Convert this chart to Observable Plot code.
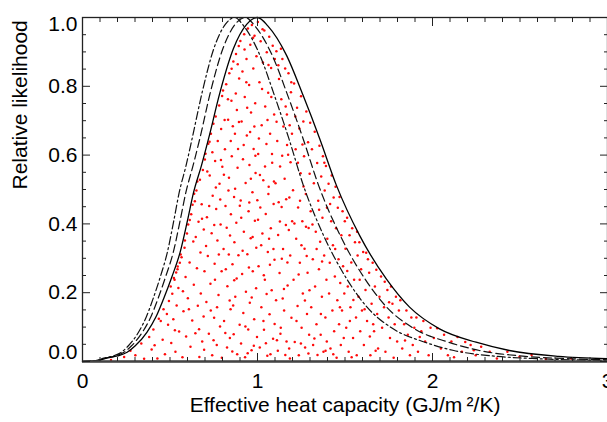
<!DOCTYPE html>
<html><head><meta charset="utf-8">
<script src="https://cdn.jsdelivr.net/npm/d3@7"></script>
<script src="https://cdn.jsdelivr.net/npm/@observablehq/plot@0.6"></script>
<style>html,body{margin:0;padding:0;background:#fff}</style>
</head><body><div id="chart"></div>
<script>
// ---- data ----
const xMajor = [0, 1, 2, 3];
const xMinor = [0.1,0.2,0.3,0.4,0.5,0.6,0.7,0.8,0.9,1.1,1.2,1.3,1.4,1.5,1.6,1.7,1.8,1.9,2.1,2.2,2.3,2.4,2.5,2.6,2.7,2.8,2.9];
const yMajor = [0, 0.2, 0.4, 0.6, 0.8, 1.0];
const yMinor = [0.05,0.1,0.15,0.25,0.3,0.35,0.45,0.5,0.55,0.65,0.7,0.75,0.85,0.9,0.95];
const yLabelMid = [0.2, 0.4, 0.6, 0.8];
const xTitle = "Effective heat capacity (GJ/m\u2009\u00b2/K)";
const yTitle = "Relative likelihood";

// solid curve
const solidX = [0,0.10,0.14,0.20,0.255,0.30,0.368,0.42,0.463,0.51,0.558,0.60,0.634,0.68,0.72,0.786,0.862,0.938,1.0,1.06,1.166,1.261,1.356,1.451,1.584,1.736,1.869,2.04,2.249,2.439,2.72,3.0];
const solidY = [0,0.004,0.01,0.016,0.027,0.045,0.085,0.13,0.182,0.245,0.318,0.41,0.49,0.57,0.647,0.783,0.909,0.98,1.0,0.975,0.89,0.773,0.647,0.512,0.366,0.24,0.158,0.095,0.056,0.032,0.015,0.008];
// dash-dot curve (peak ~0.87)
const dashDotX = [0,0.087,0.122,0.174,0.222,0.261,0.32,0.365,0.403,0.444,0.485,0.522,0.552,0.592,0.626,0.684,0.75,0.816,0.87,0.922,1.014,1.097,1.18,1.262,1.378,1.51,1.626,1.775,1.957,2.122,2.366,2.61,3.0];
const dashDotY = [0,0.004,0.01,0.016,0.027,0.045,0.085,0.13,0.182,0.245,0.318,0.41,0.49,0.57,0.647,0.783,0.909,0.98,1.0,0.975,0.89,0.773,0.647,0.512,0.366,0.24,0.158,0.095,0.056,0.032,0.015,0.008,0.003];
// dashed curve (peak ~0.93)
const dashX = [0,0.093,0.13,0.186,0.237,0.279,0.342,0.391,0.431,0.474,0.519,0.558,0.59,0.632,0.67,0.731,0.802,0.872,0.93,0.986,1.084,1.173,1.261,1.349,1.473,1.614,1.738,1.897,2.092,2.268,2.53,2.79,3.0];
const dashY = [0,0.004,0.01,0.016,0.027,0.045,0.085,0.13,0.182,0.245,0.318,0.41,0.49,0.57,0.647,0.783,0.909,0.98,1.0,0.975,0.89,0.773,0.647,0.512,0.366,0.24,0.158,0.095,0.056,0.032,0.015,0.008,0.005];

// red scatter (estimated positions)
const cloud = [
[0.163,0.004],[0.238,0.013],[0.274,0.031],[0.302,0.018],[0.336,0.052],[0.352,0.008],[0.381,0.071],[0.395,0.035],
[0.412,0.047],[0.447,0.118],[0.428,0.009],[0.436,0.124],[0.458,0.063],[0.463,0.152],[0.471,0.021],[0.489,0.107],[0.494,0.176],[0.405,0.093],[0.482,0.138],
[0.507,0.054],[0.513,0.197],[0.519,0.123],[0.526,0.238],[0.531,0.028],[0.538,0.163],[0.543,0.268],[0.552,0.087],[0.548,0.214],[0.566,0.303],[0.571,0.012],[0.577,0.146],[0.583,0.331],[0.589,0.246],[0.592,0.073],[0.597,0.372],[0.602,0.184],[0.504,0.218],[0.522,0.243],[0.535,0.259],[0.561,0.311],[0.585,0.352],[0.556,0.287],[0.544,0.276],[0.528,0.091],[0.574,0.204],
[0.604,0.398],[0.612,0.288],[0.617,0.043],[0.621,0.428],[0.627,0.119],[0.633,0.349],[0.636,0.223],[0.642,0.466],[0.645,0.082],[0.651,0.497],[0.654,0.271],[0.659,0.162],[0.663,0.406],[0.668,0.013],[0.671,0.528],[0.674,0.317],[0.676,0.198],[0.681,0.457],[0.684,0.058],[0.688,0.557],[0.692,0.131],[0.693,0.384],[0.697,0.262],[0.699,0.587],[0.608,0.152],[0.629,0.456],[0.647,0.362],[0.666,0.094],[0.683,0.415],[0.695,0.034],[0.613,0.411],[0.656,0.523],[0.638,0.488],
[0.703,0.604],[0.708,0.173],[0.711,0.419],[0.716,0.307],[0.719,0.633],[0.722,0.081],[0.727,0.541],[0.731,0.226],[0.734,0.662],[0.738,0.373],[0.741,0.018],[0.744,0.482],[0.748,0.691],[0.752,0.127],[0.755,0.284],[0.758,0.583],[0.761,0.712],[0.764,0.443],[0.767,0.048],[0.771,0.352],[0.773,0.641],[0.777,0.193],[0.781,0.744],[0.783,0.517],[0.786,0.102],[0.789,0.398],[0.792,0.676],[0.795,0.262],[0.798,0.772],[0.799,0.566],[0.796,0.011],[0.742,0.608],[0.724,0.452],[0.757,0.238],[0.713,0.552],[0.787,0.471],[0.749,0.062],[0.769,0.158],[0.706,0.336],[0.733,0.148],[0.779,0.311],[0.762,0.506],[0.726,0.639],[0.791,0.586],[0.753,0.397],
[0.803,0.788],[0.806,0.327],[0.809,0.118],[0.814,0.617],[0.817,0.452],[0.821,0.806],[0.826,0.041],[0.828,0.219],[0.832,0.703],[0.837,0.534],[0.839,0.838],[0.843,0.366],[0.846,0.152],[0.851,0.758],[0.853,0.597],[0.857,0.283],[0.862,0.872],[0.864,0.079],[0.866,0.478],[0.871,0.662],[0.873,0.188],[0.877,0.894],[0.879,0.403],[0.882,0.731],[0.884,0.021],[0.886,0.563],[0.891,0.309],[0.893,0.917],[0.895,0.823],[0.898,0.107],[0.808,0.543],[0.819,0.268],[0.831,0.762],[0.842,0.068],[0.848,0.428],[0.859,0.684],[0.868,0.347],[0.881,0.241],[0.889,0.618],[0.834,0.497],[0.841,0.177],[0.852,0.851],[0.872,0.502],[0.887,0.864],[0.812,0.702],[0.861,0.163],[0.824,0.389],[0.856,0.029],[0.876,0.779],[0.899,0.453],[0.816,0.083],[0.847,0.641],[0.867,0.236],[0.894,0.696],[0.836,0.311],
[0.902,0.932],[0.904,0.468],[0.906,0.052],[0.909,0.698],[0.912,0.254],[0.914,0.843],[0.917,0.588],[0.919,0.141],[0.922,0.377],[0.924,0.951],[0.927,0.769],[0.929,0.012],[0.932,0.519],[0.934,0.203],[0.937,0.879],[0.939,0.657],[0.942,0.312],[0.945,0.968],[0.947,0.093],[0.949,0.437],[0.952,0.804],[0.954,0.571],[0.956,0.171],[0.959,0.921],[0.961,0.358],[0.963,0.724],[0.966,0.033],[0.968,0.978],[0.971,0.492],[0.973,0.262],[0.976,0.852],[0.978,0.618],[0.981,0.123],[0.983,0.947],[0.985,0.409],[0.987,0.751],[0.989,0.548],[0.992,0.213],[0.994,0.887],[0.997,0.071],[0.907,0.418],[0.921,0.629],[0.931,0.102],[0.941,0.738],[0.951,0.273],[0.962,0.531],[0.972,0.362],[0.982,0.683],[0.993,0.331],[0.936,0.812],[0.953,0.462],[0.975,0.941],[0.915,0.322],[0.944,0.024],[0.967,0.186],[0.988,0.598],[0.926,0.907],[0.958,0.667],[0.979,0.046],[0.999,0.469],
[1.002,0.987],[1.004,0.603],[1.006,0.277],[1.011,0.812],[1.013,0.041],[1.016,0.448],[1.018,0.931],[1.022,0.158],[1.024,0.687],[1.028,0.372],[1.031,0.869],[1.033,0.527],[1.037,0.092],[1.039,0.962],[1.042,0.238],[1.044,0.741],[1.047,0.429],[1.051,0.632],[1.053,0.899],[1.056,0.017],[1.059,0.318],[1.061,0.781],[1.064,0.508],[1.067,0.944],[1.069,0.137],[1.072,0.662],[1.076,0.387],[1.078,0.853],[1.081,0.207],[1.084,0.578],[1.087,0.918],[1.089,0.066],[1.092,0.458],[1.095,0.718],[1.097,0.296],[1.099,0.879],[1.008,0.648],[1.021,0.338],[1.034,0.118],[1.043,0.567],[1.052,0.196],[1.063,0.862],[1.071,0.281],[1.083,0.603],[1.091,0.327],[1.098,0.109],[1.003,0.412],[1.026,0.792],[1.048,0.053],[1.079,0.769],[1.062,0.487],[1.014,0.542],[1.036,0.251],[1.057,0.702],[1.074,0.021],[1.094,0.523],[1.029,0.966],[1.066,0.357],
[1.103,0.518],[1.106,0.178],[1.108,0.902],[1.113,0.641],[1.116,0.031],[1.118,0.368],[1.123,0.821],[1.126,0.257],[1.129,0.567],[1.133,0.098],[1.136,0.762],[1.138,0.449],[1.142,0.879],[1.146,0.327],[1.148,0.683],[1.152,0.148],[1.155,0.531],[1.158,0.852],[1.162,0.397],[1.166,0.058],[1.168,0.718],[1.172,0.221],[1.175,0.601],[1.177,0.838],[1.182,0.477],[1.185,0.009],[1.187,0.308],[1.191,0.783],[1.194,0.127],[1.197,0.662],[1.109,0.697],[1.121,0.463],[1.131,0.081],[1.141,0.598],[1.151,0.211],[1.161,0.741],[1.171,0.288],[1.181,0.038],[1.189,0.579],[1.198,0.408],[1.119,0.861],[1.139,0.299],[1.159,0.019],[1.179,0.382],[1.193,0.812],[1.128,0.407],[1.169,0.629],[1.111,0.062],[1.144,0.183],[1.164,0.472],[1.184,0.687],[1.134,0.909],
[1.203,0.498],[1.206,0.238],[1.209,0.808],[1.213,0.057],[1.218,0.617],[1.221,0.357],[1.226,0.738],[1.229,0.161],[1.232,0.448],[1.236,0.018],[1.239,0.677],[1.242,0.287],[1.246,0.547],[1.249,0.771],[1.252,0.098],[1.256,0.408],[1.259,0.198],[1.262,0.698],[1.266,0.597],[1.269,0.328],[1.272,0.041],[1.276,0.487],[1.279,0.727],[1.283,0.138],[1.286,0.258],[1.289,0.637],[1.292,0.388],[1.295,0.078],[1.298,0.546],[1.301,0.694],[1.211,0.401],[1.231,0.578],[1.251,0.338],[1.271,0.177],[1.291,0.023],[1.223,0.118],[1.243,0.467],[1.263,0.509],[1.281,0.307],[1.297,0.207],[1.216,0.712],[1.235,0.253],[1.257,0.631],[1.277,0.392],[1.248,0.052],
[1.304,0.437],[1.307,0.158],[1.311,0.617],[1.316,0.297],[1.318,0.048],[1.322,0.518],[1.327,0.668],[1.329,0.218],[1.333,0.377],[1.337,0.108],[1.341,0.577],[1.343,0.019],[1.347,0.467],[1.351,0.268],[1.354,0.627],[1.358,0.348],[1.361,0.078],[1.364,0.538],[1.368,0.188],[1.371,0.418],[1.374,0.597],[1.377,0.028],[1.381,0.308],[1.384,0.497],[1.388,0.128],[1.391,0.568],[1.394,0.238],[1.397,0.447],[1.399,0.357],[1.396,0.058],[1.314,0.398],[1.338,0.327],[1.362,0.138],[1.382,0.578],[1.325,0.067],[1.352,0.441],[1.369,0.291],[1.389,0.031],
[1.406,0.517],[1.409,0.198],[1.413,0.287],[1.417,0.038],[1.421,0.408],[1.424,0.541],[1.428,0.148],[1.431,0.338],[1.435,0.477],[1.438,0.088],[1.442,0.247],[1.446,0.508],[1.449,0.387],[1.452,0.011],[1.456,0.178],[1.459,0.447],[1.463,0.297],[1.466,0.108],[1.469,0.478],[1.473,0.228],[1.476,0.048],[1.479,0.367],[1.483,0.148],[1.486,0.437],[1.489,0.277],[1.493,0.068],[1.496,0.198],[1.499,0.408],[1.415,0.458],[1.444,0.327],[1.471,0.158],[1.433,0.021],
[1.503,0.328],[1.507,0.098],[1.512,0.418],[1.516,0.218],[1.521,0.028],[1.526,0.367],[1.531,0.158],[1.536,0.288],[1.541,0.387],[1.546,0.068],[1.552,0.238],[1.557,0.347],[1.563,0.128],[1.567,0.018],[1.572,0.308],[1.577,0.188],[1.582,0.347],[1.587,0.088],[1.592,0.268],[1.597,0.148],[1.528,0.118],[1.569,0.377],[1.513,0.263],[1.548,0.179],[1.584,0.238],[1.538,0.012],
[1.604,0.318],[1.608,0.048],[1.617,0.208],[1.626,0.118],[1.631,0.297],[1.638,0.258],[1.645,0.018],[1.652,0.168],[1.658,0.287],[1.666,0.088],[1.671,0.218],[1.679,0.267],[1.684,0.138],[1.689,0.038],[1.697,0.188],[1.621,0.316],[1.661,0.108],[1.642,0.073],[1.675,0.031],[1.612,0.152],
[1.706,0.247],[1.712,0.098],[1.723,0.158],[1.731,0.028],[1.742,0.208],[1.749,0.128],[1.757,0.068],[1.763,0.218],[1.771,0.168],[1.778,0.011],[1.784,0.108],[1.791,0.188],[1.798,0.058],[1.727,0.232],[1.752,0.172],
[1.808,0.148],[1.816,0.178],[1.827,0.038],[1.838,0.108],[1.851,0.148],[1.859,0.078],[1.871,0.018],[1.879,0.128],[1.887,0.048],[1.896,0.098],[1.843,0.061],
[1.908,0.128],[1.917,0.028],[1.936,0.088],[1.948,0.118],[1.958,0.058],[1.978,0.018],[1.989,0.098],[1.927,0.071],
[2.008,0.068],[2.027,0.097],[2.048,0.038],[2.066,0.078],[2.088,0.018],[2.108,0.058],[2.143,0.071],[2.168,0.028],[2.187,0.057],[2.123,0.012],
[2.218,0.048],[2.247,0.018],[2.278,0.043],[2.327,0.028],[2.368,0.009],[2.236,0.033],
[2.428,0.028],[2.497,0.014],[2.566,0.019],[2.648,0.007],
[2.793,0.009],[2.948,0.005]
];

// ---- build ----
const solid = solidX.map((x, i) => ({x, y: solidY[i]}));
const dashDot = dashDotX.map((x, i) => ({x, y: dashDotY[i]}));
const dashed = dashX.map((x, i) => ({x, y: dashY[i]}));
const blank = () => "";
const FS = 21;

const chart = Plot.plot({
  width: 607, height: 422,
  marginLeft: 82, marginRight: 0, marginTop: 17, marginBottom: 61,
  x: {domain: [0, 3], axis: null, label: null},
  y: {domain: [0, 1], axis: null, label: null},
  style: {fontFamily: "'Liberation Sans', Arial, Helvetica, sans-serif", fontSize: "21px", color: "#000", background: "#fff"},
  marks: [
    Plot.dot(cloud, {x: d => d[0], y: d => d[1], r: 1.25, fill: "#ff0a0a", stroke: "none"}),
    Plot.line(dashDot, {x: "x", y: "y", curve: "monotone-x", stroke: "#111", strokeWidth: 1.2, strokeDasharray: "8,3,2,3"}),
    Plot.line(dashed, {x: "x", y: "y", curve: "monotone-x", stroke: "#111", strokeWidth: 1.2, strokeDasharray: "8,4"}),
    Plot.line(solid, {x: "x", y: "y", curve: "monotone-x", stroke: "#000", strokeWidth: 1.3}),
    Plot.frame({stroke: "#222", strokeWidth: 1.3}),
    Plot.ruleY([0], {stroke: "#444", strokeWidth: 2.5}),
    // inward ticks on all four sides
    Plot.axisX(xMajor, {anchor: "bottom", tickSize: -8, tickFormat: blank, label: null, stroke: "#222"}),
    Plot.axisX(xMinor, {anchor: "bottom", tickSize: -4, tickFormat: blank, label: null, stroke: "#222"}),
    Plot.axisX(xMajor, {anchor: "top", tickSize: -8, tickFormat: blank, label: null, stroke: "#222"}),
    Plot.axisX(xMinor, {anchor: "top", tickSize: -4, tickFormat: blank, label: null, stroke: "#222"}),
    Plot.axisY(yMajor, {anchor: "left", tickSize: -8, tickFormat: blank, label: null, stroke: "#222"}),
    Plot.axisY(yMinor, {anchor: "left", tickSize: -4, tickFormat: blank, label: null, stroke: "#222"}),
    Plot.axisY(yMajor, {anchor: "right", tickSize: -8, tickFormat: blank, label: null, stroke: "#222"}),
    Plot.axisY(yMinor, {anchor: "right", tickSize: -4, tickFormat: blank, label: null, stroke: "#222"}),
    // tick labels
    Plot.axisX(xMajor, {anchor: "bottom", tickSize: 0, tickPadding: 12, tickFormat: d => String(d), label: null, fontSize: FS, fill: "#000"}),
    Plot.axisY(yLabelMid, {anchor: "left", tickSize: 0, tickPadding: 5, tickFormat: d => d.toFixed(1), label: null, fontSize: FS, fill: "#000"}),
    Plot.axisY([1.0], {anchor: "left", tickSize: 0, tickPadding: 5, tickFormat: d => d.toFixed(1), label: null, fontSize: FS, fill: "#000", dy: 7}),
    Plot.axisY([0], {anchor: "left", tickSize: 0, tickPadding: 5, tickFormat: d => d.toFixed(1), label: null, fontSize: FS, fill: "#000", dy: -9}),
    // axis titles
    Plot.text([xTitle], {frameAnchor: "bottom", dy: 50, fontSize: FS, fill: "#000"}),
    Plot.text([yTitle], {frameAnchor: "left", dx: -62, rotate: -90, fontSize: FS, fill: "#000"})
  ]
});
document.getElementById("chart").appendChild(chart);
</script>
</body></html>
